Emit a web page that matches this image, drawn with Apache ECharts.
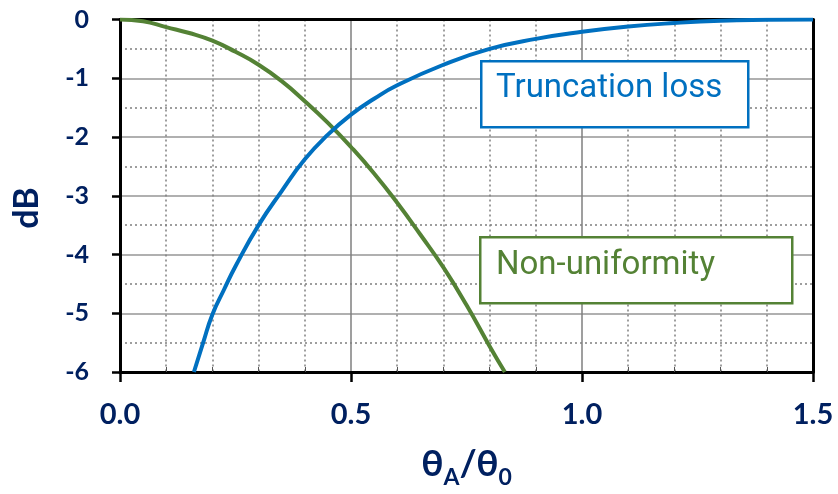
<!DOCTYPE html>
<html><head><meta charset="utf-8">
<script src="https://cdn.jsdelivr.net/npm/echarts@6/dist/echarts.min.js"></script>
<style>html,body{margin:0;padding:0;background:#fff}#c{width:838px;height:494px}</style>
</head><body><div id="c"></div>
<script>
const xTicks = ['0.0','0.5','1.0','1.5'];
const yTicks = ['0','-1','-2','-3','-4','-5','-6'];
const truncationX = [0.16,0.18,0.20,0.225,0.25,0.30,0.35,0.40,0.45,0.50,0.55,0.60,0.70,0.80,0.90,1.00,1.10,1.20,1.30,1.40,1.50];
const truncationY = [-6.0,-5.5,-5.02,-4.6,-4.2,-3.5,-2.92,-2.38,-1.96,-1.62,-1.35,-1.12,-0.77,-0.5,-0.33,-0.21,-0.12,-0.06,-0.02,-0.005,0];
const nonUnifX = [0,0.05,0.10,0.15,0.20,0.25,0.30,0.35,0.40,0.45,0.50,0.55,0.60,0.65,0.70,0.75,0.80,0.833];
const nonUnifY = [0,-0.03,-0.13,-0.23,-0.36,-0.55,-0.77,-1.05,-1.39,-1.76,-2.17,-2.62,-3.12,-3.66,-4.22,-4.86,-5.56,-6.0];
const labelTrunc = 'Truncation loss';
const labelNonUnif = 'Non-uniformity';
const yTitle = 'dB';

const navy = '#002060', blue = '#0070C0', green = '#548235';
const chart = echarts.init(document.getElementById('c'));
chart.setOption({
  animation:false,
  grid:{left:120,right:25,top:19.5,bottom:122,show:false},
  xAxis:[{
    type:'value',min:0,max:1.5,interval:0.5,
    axisLine:{show:true,onZero:false,lineStyle:{color:'#000',width:3}},
    axisTick:{show:true,length:10,lineStyle:{color:'#000',width:2.5}},
    minorTick:{show:true,splitNumber:5,length:-5,lineStyle:{color:'#555',width:1}},
    axisLabel:{margin:28,color:navy,fontFamily:'Lato',fontWeight:'bold',fontSize:29,
      formatter:(v)=>xTicks[Math.round(v/0.5)]},
    splitLine:{show:true,showMinLine:false,showMaxLine:false,lineStyle:{color:'#7f7f7f',width:1.5}},
    minorSplitLine:{show:true,lineStyle:{color:'#7f7f7f',width:1.5,type:[2,3]}},
    name:'{t|θ}{s|A}{t|/θ}{s|0}',nameLocation:'middle',nameGap:68,
    nameTextStyle:{rich:{t:{fontFamily:'Lato',fontWeight:'bold',fontSize:37,color:navy},s:{fontFamily:'Lato',fontWeight:'bold',fontSize:23,color:navy,verticalAlign:'bottom',padding:[26,0,0,0]}}}
  },{
    type:'value',position:'top',min:0,max:1.5,
    axisLine:{show:true,onZero:false,lineStyle:{color:'#000',width:3}},
    axisTick:{show:false},axisLabel:{show:false},splitLine:{show:false}
  }],
  yAxis:[{
    type:'value',min:-6,max:0,interval:1,
    axisLine:{show:true,onZero:false,lineStyle:{color:'#000',width:3}},
    axisTick:{show:true,length:8,lineStyle:{color:'#000',width:2.5}},
    minorTick:{show:false,splitNumber:2},
    axisLabel:{margin:31,color:navy,fontFamily:'Lato',fontWeight:'bold',fontSize:25,
      formatter:(v)=>yTicks[Math.round(-v)]},
    splitLine:{show:true,showMinLine:false,showMaxLine:false,lineStyle:{color:'#b0b0b0',width:2}},
    minorSplitLine:{show:true,lineStyle:{color:'#7f7f7f',width:1.5,type:[2,3]}}
  },{
    type:'value',position:'right',min:-6,max:0,
    axisLine:{show:true,onZero:false,lineStyle:{color:'#000',width:3}},
    axisTick:{show:false},axisLabel:{show:false},splitLine:{show:false}
  }],
  series:[
    {type:'line',name:labelTrunc,smooth:true,showSymbol:false,clip:true,
     lineStyle:{color:blue,width:4},z:5,
     data:truncationX.map((x,i)=>[x,truncationY[i]])},
    {type:'line',name:labelNonUnif,smooth:true,showSymbol:false,clip:true,
     lineStyle:{color:green,width:4},z:4,
     data:nonUnifX.map((x,i)=>[x,nonUnifY[i]])}
  ],
  graphic:[
    {type:'text',x:27,y:208,rotation:Math.PI/2,z:11,
     style:{text:yTitle,fill:navy,font:'bold 34px Lato',align:'center',verticalAlign:'middle'}},
    {type:'rect',left:480,top:60,shape:{width:267,height:66},z:10,
     style:{fill:'#fff',stroke:blue,lineWidth:2.5}},
    {type:'text',left:496,top:72,z:11,
     style:{text:labelTrunc,fill:blue,font:'33px Roboto'}},
    {type:'rect',left:479,top:236,shape:{width:312,height:66},z:10,
     style:{fill:'#fff',stroke:green,lineWidth:2.5}},
    {type:'text',left:496,top:249,z:11,
     style:{text:labelNonUnif,fill:green,font:'33px Roboto'}}
  ]
});
</script></body></html>
